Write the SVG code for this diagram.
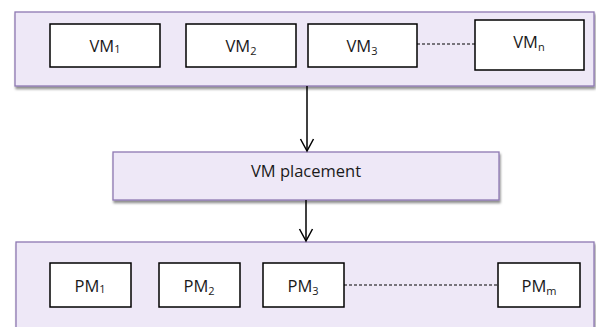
<svg xmlns="http://www.w3.org/2000/svg" width="596" height="327" viewBox="0 0 596 327">
  <style>
    .panel { fill: #EEE8F7; stroke: #8E78B2; stroke-width: 1.3; filter: url(#shadow); }
    .box { fill: #FFFFFF; stroke: #000000; stroke-width: 1.5; }
    .lbl { font-family: "Open Sans", "Liberation Sans", sans-serif; font-size: 16.5px; fill: #1A1A1A; text-anchor: middle; }
    .sub { font-size: 11px; }
    .dash { stroke: #000000; stroke-width: 1; stroke-dasharray: 3 2; fill: none; }
    .arrow { stroke: #000000; stroke-width: 1.5; fill: none; marker-end: url(#vhead); }
  </style>
  <defs>
    <filter id="shadow" x="-5%" y="-10%" width="110%" height="130%">
      <feDropShadow dx="1" dy="2.5" stdDeviation="1.2" flood-color="#000000" flood-opacity="0.45"/>
    </filter>
    <marker id="vhead" markerWidth="16" markerHeight="16" refX="14" refY="8" orient="auto" markerUnits="userSpaceOnUse" viewBox="0 0 16 16">
      <path d="M2,1.5 L14,8 L2,14.5" fill="none" stroke="#000000" stroke-width="1.5"/>
    </marker>
  </defs>

  <!-- virtual machine layer -->
  <g id="vm-layer">
    <rect class="panel" x="15" y="12" width="579" height="74"/>
  </g>
  <g id="vm1">
    <rect class="box" x="50" y="24" width="110" height="43"/>
    <text class="lbl" x="105" y="52">VM<tspan class="sub" dy="1">1</tspan></text>
  </g>
  <g id="vm2">
    <rect class="box" x="186" y="24" width="110" height="43"/>
    <text class="lbl" x="241" y="52">VM<tspan class="sub" dy="3">2</tspan></text>
  </g>
  <g id="vm3">
    <rect class="box" x="308" y="24" width="109" height="43"/>
    <text class="lbl" x="362" y="52">VM<tspan class="sub" dy="3">3</tspan></text>
  </g>
  <g id="vmn">
    <rect class="box" x="475" y="20" width="109" height="50"/>
    <text class="lbl" x="529" y="48">VM<tspan class="sub" dy="3">n</tspan></text>
  </g>

  <!-- placement step -->
  <g id="placement">
    <rect class="panel" x="113" y="152" width="386" height="48"/>
    <text class="lbl" x="306" y="177">VM placement</text>
  </g>

  <!-- physical machine layer -->
  <g id="pm-layer">
    <rect class="panel" x="16" y="242" width="578" height="90"/>
  </g>
  <g id="pm1">
    <rect class="box" x="50" y="263" width="81" height="44"/>
    <text class="lbl" x="90" y="292">PM<tspan class="sub" dy="1">1</tspan></text>
  </g>
  <g id="pm2">
    <rect class="box" x="159" y="263" width="81" height="44"/>
    <text class="lbl" x="199" y="292">PM<tspan class="sub" dy="3">2</tspan></text>
  </g>
  <g id="pm3">
    <rect class="box" x="263" y="263" width="81" height="44"/>
    <text class="lbl" x="303" y="292">PM<tspan class="sub" dy="3">3</tspan></text>
  </g>
  <g id="pmm">
    <rect class="box" x="498" y="263" width="82" height="44"/>
    <text class="lbl" x="539" y="292">PM<tspan class="sub" dy="3">m</tspan></text>
  </g>

  <!-- connectors -->
  <g id="connectors">
    <line class="dash" x1="417" y1="44" x2="475" y2="44"/>
    <line class="dash" x1="344" y1="285" x2="498" y2="285"/>
    <line class="arrow" x1="307" y1="86" x2="307" y2="151"/>
    <line class="arrow" x1="306" y1="200" x2="306" y2="241"/>
  </g>
</svg>
